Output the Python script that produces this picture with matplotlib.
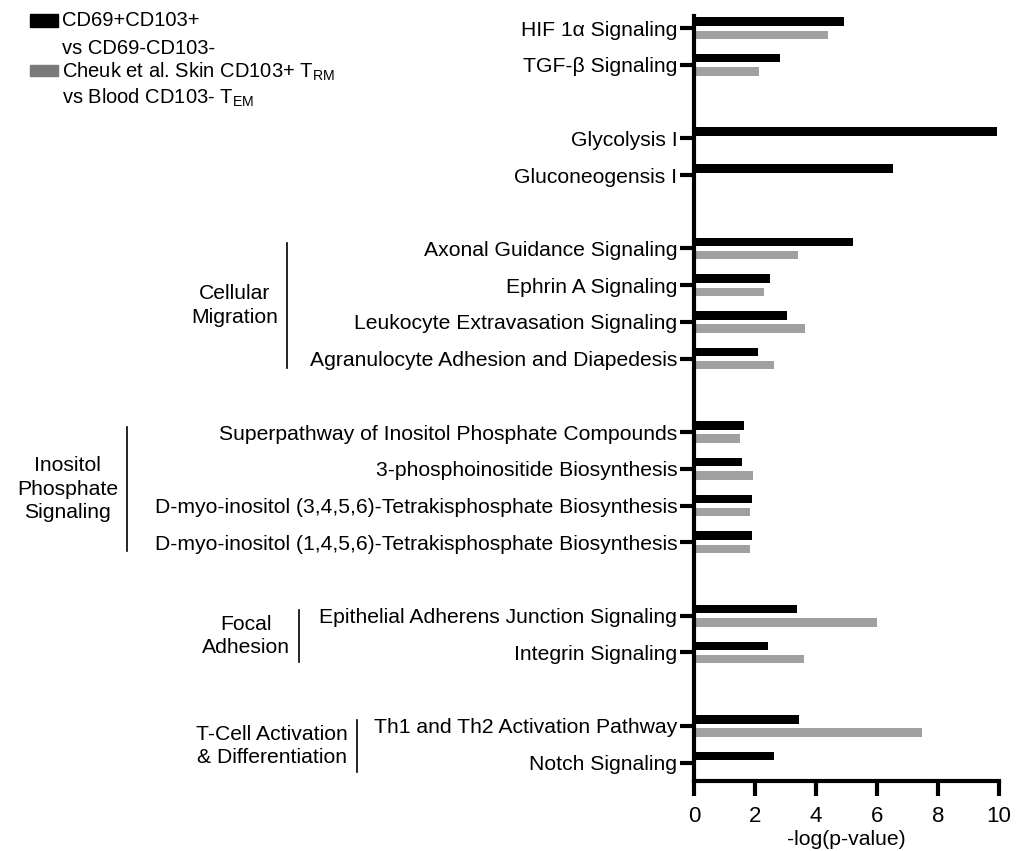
import numpy as np
import matplotlib
matplotlib.use('Agg')
import matplotlib.pyplot as plt
from matplotlib.patches import Rectangle
from matplotlib.lines import Line2D

plt.rcParams['font.family'] = ['Liberation Sans', 'DejaVu Sans']
plt.rcParams['mathtext.fontset'] = 'custom'
plt.rcParams['mathtext.rm'] = 'Liberation Sans'
plt.rcParams['mathtext.it'] = 'Liberation Sans:italic'

# pathways, top to bottom, split into groups
groups = [
    ['HIF 1α Signaling', 'TGF-β Signaling'],
    ['Glycolysis I', 'Gluconeogensis I'],
    ['Axonal Guidance Signaling', 'Ephrin A Signaling',
     'Leukocyte Extravasation Signaling', 'Agranulocyte Adhesion and Diapedesis'],
    ['Superpathway of Inositol Phosphate Compounds', '3-phosphoinositide Biosynthesis',
     'D-myo-inositol (3,4,5,6)-Tetrakisphosphate Biosynthesis',
     'D-myo-inositol (1,4,5,6)-Tetrakisphosphate Biosynthesis'],
    ['Epithelial Adherens Junction Signaling', 'Integrin Signaling'],
    ['Th1 and Th2 Activation Pathway', 'Notch Signaling'],
]
group_names = [None, None, 'Cellular\nMigration', 'Inositol\nPhosphate\nSignaling',
               'Focal\nAdhesion', 'T-Cell Activation\n& Differentiation']

# -log(p-value)
cd69 = [4.92, 2.82, 9.92, 6.51, 5.20, 2.49, 3.04, 2.09,
        1.64, 1.58, 1.91, 1.91, 3.39, 2.44, 3.44, 2.61]
cheuk = [4.38, 2.13, np.nan, np.nan, 3.40, 2.31, 3.64, 2.63,
         1.50, 1.93, 1.85, 1.85, 5.99, 3.62, 7.49, np.nan]

FS = 15.2

# y positions with a blank slot between groups
labels, ypos, spans = [], [], []
p = 0
for g in groups:
    start = p
    for name in g:
        labels.append(name)
        ypos.append(p)
        p += 1
    spans.append((start, p - 1))
    p += 1
ypos = np.array(ypos, dtype=float)

fig = plt.figure(figsize=(10.23, 8.51), dpi=100)
ax = fig.add_axes([694 / 1023, 1 - 781 / 851, 305 / 1023, 765 / 851])

h = 0.23
ax.barh(ypos - 0.18, cd69, height=h, color='black')
ax.barh(ypos + 0.18, cheuk, height=h, color='#a0a0a0')

ax.set_xlim(0, 10)
ax.set_ylim(20.5, -0.33)
ax.set_yticks(ypos)
ax.set_yticklabels(labels, fontsize=FS)
ax.set_xticks([0, 2, 4, 6, 8, 10])
ax.tick_params(axis='x', labelsize=FS + 0.8, length=11, width=3, direction='out', pad=7)
ax.tick_params(axis='y', length=10, width=3, direction='out', pad=2)
ax.set_xlabel('-log(p-value)', fontsize=FS, labelpad=2)
for s in ['top', 'right']:
    ax.spines[s].set_visible(False)
for s in ['left', 'bottom']:
    ax.spines[s].set_linewidth(3)

# group brackets (x in figure pixels, y in data units)
bracket_x = [None, None, 287, 127, 299, 357]
trans = matplotlib.transforms.blended_transform_factory(fig.transFigure, ax.transData)
for name, (a, b), bx in zip(group_names, spans, bracket_x):
    if name is None:
        continue
    x = bx / 1023
    fig.add_artist(Line2D([x, x], [a - 0.15, b + 0.25], transform=trans,
                          color='black', lw=1.2))
    fig.text(x - 9 / 1023, (a + b) / 2 + 0.05, name, transform=trans, ha='right',
             va='center', multialignment='center', fontsize=FS, linespacing=1.3)

# legend
fig.add_artist(Rectangle((30 / 1023, 1 - 27 / 851), 28 / 1023, 13 / 851,
                         transform=fig.transFigure, color='black'))
fig.add_artist(Rectangle((30 / 1023, 1 - 76 / 851), 28 / 1023, 11 / 851,
                         transform=fig.transFigure, color='#7a7a7a'))
leg_lines = ['CD69+CD103+', 'vs CD69-CD103-',
             r'Cheuk et al. Skin CD103+ T$_{\mathrm{RM}}$',
             r'vs Blood CD103- T$_{\mathrm{EM}}$']
leg_y = [21, 48, 72, 98]
for t, yy in zip(leg_lines, leg_y):
    fig.text(62 / 1023, 1 - yy / 851, t, ha='left', va='center', fontsize=FS - 0.7)

fig.savefig('out.png', dpi=100)
